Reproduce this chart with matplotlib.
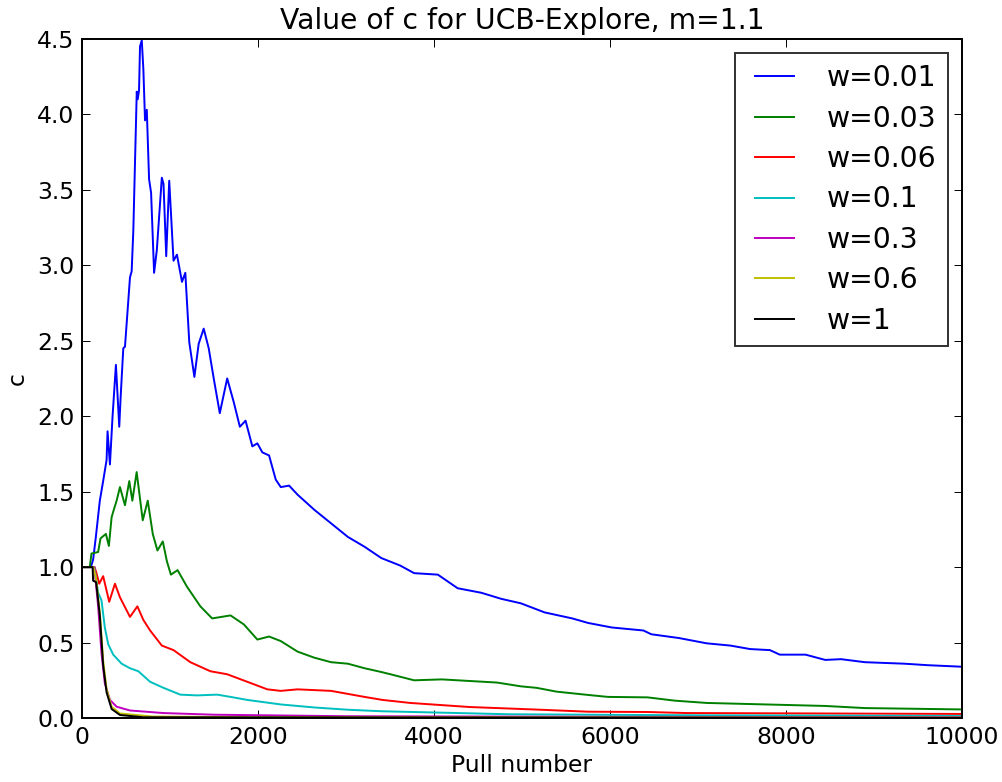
import matplotlib
matplotlib.use('Agg')
import matplotlib.pyplot as plt

# values
x_001 = [0, 100, 126, 157, 202, 240, 279, 290, 317, 347, 385, 423, 439, 469, 488, 545, 564, 583, 602,
         622, 633, 648, 659, 679, 697, 716, 736, 762, 785, 819, 850, 907, 926, 957, 991, 1040, 1079,
         1136, 1174, 1219, 1277, 1326, 1383, 1440, 1497, 1566, 1650, 1726, 1794, 1859, 1936, 1993,
         2050, 2126, 2202, 2259, 2354, 2450, 2640, 2831, 3022, 3211, 3402, 3618, 3775, 4045, 4270,
         4539, 4764, 4989, 5258, 5573, 5753, 6022, 6382, 6472, 6786, 7101, 7371, 7595, 7820, 7932,
         8225, 8449, 8629, 8899, 9348, 9618, 10000]
y_001 = [1.0, 1.0, 1.05, 1.2, 1.44, 1.57, 1.71, 1.90, 1.68, 2.0, 2.34, 1.93, 2.13, 2.45, 2.46, 2.92,
         2.96, 3.23, 3.68, 4.15, 4.10, 4.16, 4.45, 4.49, 4.30, 3.96, 4.03, 3.57, 3.48, 2.95, 3.10,
         3.58, 3.54, 3.06, 3.56, 3.03, 3.07, 2.89, 2.95, 2.49, 2.26, 2.48, 2.58, 2.45, 2.25, 2.02,
         2.25, 2.09, 1.93, 1.97, 1.80, 1.82, 1.76, 1.74, 1.58, 1.53, 1.54, 1.48, 1.38, 1.29, 1.20,
         1.135, 1.06, 1.01, 0.96, 0.95, 0.86, 0.83, 0.79, 0.76, 0.70, 0.66, 0.63, 0.60, 0.58, 0.555,
         0.53, 0.495, 0.48, 0.457, 0.45, 0.42, 0.42, 0.385, 0.39, 0.37, 0.36, 0.35, 0.34]

x_003 = [0, 88, 107, 183, 210, 271, 305, 336, 366, 393, 431, 488, 537, 572, 621, 690, 747, 804, 857,
         918, 964, 1010, 1086, 1193, 1345, 1479, 1688, 1840, 1993, 2126, 2259, 2450, 2640, 2831,
         3022, 3211, 3402, 3506, 3775, 4090, 4719, 4989, 5168, 5393, 5753, 5978, 6427, 6741, 7101,
         7775, 8449, 8899, 10000]
y_003 = [1.0, 1.0, 1.09, 1.10, 1.19, 1.22, 1.14, 1.33, 1.39, 1.44, 1.53, 1.41, 1.57, 1.44, 1.63,
         1.31, 1.44, 1.22, 1.11, 1.17, 1.04, 0.95, 0.98, 0.87, 0.74, 0.66, 0.68, 0.62, 0.52, 0.54,
         0.51, 0.44, 0.40, 0.37, 0.36, 0.33, 0.305, 0.29, 0.25, 0.256, 0.235, 0.21, 0.20, 0.175,
         0.153, 0.14, 0.137, 0.115, 0.10, 0.09, 0.08, 0.066, 0.057]

x_006 = [0, 142, 164, 195, 240, 309, 374, 431, 545, 629, 697, 774, 907, 1040, 1231, 1459, 1650, 1879,
         2107, 2259, 2450, 2831, 3211, 3416, 3730, 4404, 5168, 5753, 6427, 6876, 8000, 10000]
y_006 = [1.0, 1.0, 0.96, 0.89, 0.94, 0.77, 0.89, 0.80, 0.67, 0.74, 0.65, 0.58, 0.48, 0.45, 0.37,
         0.31, 0.29, 0.24, 0.19, 0.18, 0.19, 0.18, 0.14, 0.12, 0.10, 0.073, 0.056, 0.042, 0.04,
         0.033, 0.031, 0.027]

x_01 = [0, 140, 183, 221, 259, 297, 354, 450, 545, 640, 774, 926, 1117, 1307, 1536, 1688, 1879, 2259,
        2640, 3022, 3402, 4854, 7000, 10000]
y_01 = [1.0, 1.0, 0.83, 0.78, 0.60, 0.49, 0.42, 0.36, 0.33, 0.31, 0.24, 0.20, 0.155, 0.15, 0.155,
        0.14, 0.12, 0.09, 0.07, 0.055, 0.045, 0.025, 0.018, 0.014]

x_03 = [0, 140, 183, 221, 259, 317, 393, 545, 926, 1498, 3000, 6000, 10000]
y_03 = [1.0, 1.0, 0.74, 0.43, 0.23, 0.12, 0.075, 0.05, 0.033, 0.022, 0.012, 0.008, 0.006]

x_06 = [0, 130, 160, 202, 240, 279, 336, 431, 800, 2000, 10000]
y_06 = [1.0, 1.0, 0.92, 0.70, 0.38, 0.19, 0.075, 0.03, 0.01, 0.005, 0.003]

x_1 = [0, 120, 126, 160, 202, 240, 279, 336, 431, 700, 10000]
y_1 = [1.0, 1.0, 0.91, 0.90, 0.68, 0.35, 0.17, 0.06, 0.02, 0.005, 0.001]

series = [
    (x_001, y_001, 'w=0.01', (0, 0, 1)),
    (x_003, y_003, 'w=0.03', (0, 0.5, 0)),
    (x_006, y_006, 'w=0.06', (1, 0, 0)),
    (x_01, y_01, 'w=0.1', (0, 0.75, 0.75)),
    (x_03, y_03, 'w=0.3', (0.75, 0, 0.75)),
    (x_06, y_06, 'w=0.6', (0.75, 0.75, 0)),
    (x_1, y_1, 'w=1', (0, 0, 0)),
]

# old "classic" look, scaled up by about 1.41
s = 1.41
plt.rcParams['xtick.direction'] = 'in'
plt.rcParams['ytick.direction'] = 'in'
plt.rcParams['xtick.top'] = True
plt.rcParams['ytick.right'] = True

fig = plt.figure(figsize=(10.03, 7.82), dpi=100)
ax = fig.add_axes([0.0818, 0.0818, 0.877, 0.8685])

for xs, ys, lab, col in series:
    ax.plot(xs, ys, color=col, lw=1.0 * s, label=lab)

ax.set_xlim(0, 10000)
ax.set_ylim(0, 4.5)
ax.set_xticks([0, 2000, 4000, 6000, 8000, 10000])
ax.set_yticks([0.0, 0.5, 1.0, 1.5, 2.0, 2.5, 3.0, 3.5, 4.0, 4.5])
ax.set_yticklabels(['0.0', '0.5', '1.0', '1.5', '2.0', '2.5', '3.0', '3.5', '4.0', '4.5'])
ax.tick_params(labelsize=12 * s, length=4 * s, width=0.5 * s, pad=4 * s)
for sp in ax.spines.values():
    sp.set_linewidth(1.0 * s)

ax.set_title('Value of c for UCB-Explore, m=1.1', fontsize=14.4 * s, pad=5 * s)
ax.set_xlabel('Pull number', fontsize=12 * s, labelpad=4)
ax.set_ylabel('c', fontsize=12 * s, labelpad=6)

leg = ax.legend(loc='upper right', fontsize=14.4 * s, fancybox=False, numpoints=2,
                handlelength=2.0, handletextpad=0.85, borderpad=0.4, labelspacing=0.44,
                borderaxespad=0.5)
leg.get_frame().set_edgecolor('black')
leg.get_frame().set_linewidth(1.0 * s)

fig.savefig('out.png', dpi=100, facecolor='white')
